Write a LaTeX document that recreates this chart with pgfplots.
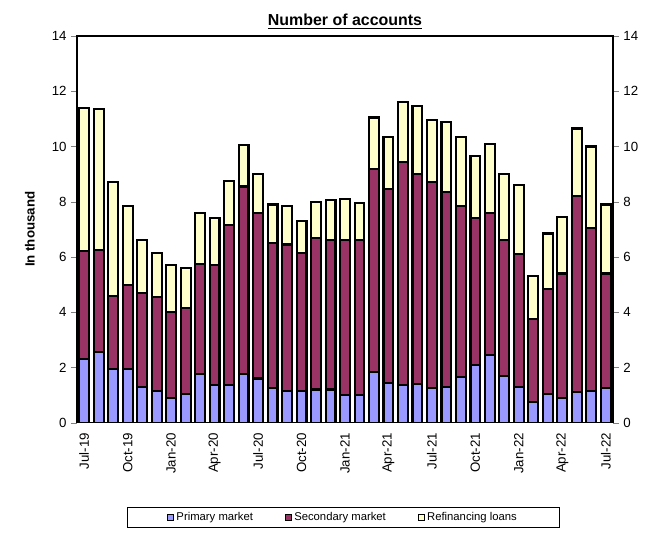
\documentclass[border=0pt]{standalone}
\usepackage{pgfplots}
\pgfplotsset{compat=1.18}
\usepackage{fontspec}
\setmainfont{Liberation Sans}
\definecolor{cp}{HTML}{9999FF}
\definecolor{cs}{HTML}{993366}
\definecolor{cr}{HTML}{FFFFCC}
\pgfplotstableread{
x p s r
0 2.3 3.9 5.2
1 2.55 3.7 5.1
2 1.95 2.65 4.1
3 1.95 3.05 2.85
4 1.3 3.4 1.9
5 1.15 3.4 1.6
6 0.9 3.1 1.7
7 1.05 3.1 1.45
8 1.75 4.0 1.85
9 1.35 4.35 1.7
10 1.35 5.8 1.6
11 1.75 6.8 1.5
12 1.6 6.0 1.4
13 1.25 5.25 1.4
14 1.15 5.3 1.4
15 1.15 5.0 1.15
16 1.2 5.5 1.3
17 1.2 5.4 1.45
18 1.0 5.6 1.5
19 1.0 5.6 1.35
20 1.85 7.35 1.85
21 1.45 7.0 1.9
22 1.35 8.1 2.15
23 1.4 7.6 2.45
24 1.25 7.45 2.25
25 1.3 7.05 2.55
26 1.65 6.2 2.5
27 2.1 5.3 2.25
28 2.45 5.15 2.5
29 1.7 4.9 2.4
30 1.3 4.8 2.5
31 0.75 3.0 1.55
32 1.05 3.8 2.0
33 0.9 4.5 2.05
34 1.1 7.1 2.45
35 1.15 5.9 2.95
36 1.25 4.15 2.5
}\data
\begin{document}
\begin{tikzpicture}
\begin{axis}[
  scale only axis, width=402bp, height=290bp,
  ybar stacked, bar width=0.68,
  xmin=-0.5, xmax=36.5, ymin=0, ymax=14,
  ytick={0,2,...,14}, tick align=outside,
  /pgf/number format/assume math mode=true,
  ytick pos=left, xtick pos=bottom,
  xtick={0,3,...,36},
  xticklabels={Jul-19,Oct-19,Jan-20,Apr-20,Jul-20,Oct-20,Jan-21,Apr-21,Jul-21,Oct-21,Jan-22,Apr-22,Jul-22},
  x tick label style={rotate=90,anchor=east},
  major x tick style={draw=none},
  extra x ticks={-0.5,0.5,...,36.5}, extra x tick labels={},
  extra x tick style={major tick length=4bp,tick style={draw=black}},
  ticklabel style={font=\fontsize{10}{12}\selectfont},
  ylabel={\bfseries In thousand}, ylabel style={font=\fontsize{10}{12}\selectfont, yshift=6bp},
  title={\bfseries\underline{Number of accounts}},
  title style={font=\fontsize{12}{14}\selectfont, yshift=-4bp},
  axis line style={line width=1pt},
  legend style={at={(0.497,-0.245)}, anchor=center, legend columns=3,
    font=\fontsize{8.5}{10}\selectfont, draw=black, line width=0.5pt,
    /tikz/every even column/.append style={column sep=22bp},
    inner xsep=30bp},
  legend image code/.code={\draw[#1,line width=0.4pt,draw=black] (0cm,-0.08cm) rectangle (0.16cm,0.08cm);},
]
\addplot[fill=cp, draw=black, line width=1.6pt] table[x=x,y=p]{\data};
\addplot[fill=cs, draw=black, line width=1.6pt] table[x=x,y=s]{\data};
\addplot[fill=cr, draw=black, line width=1.6pt] table[x=x,y=r]{\data};
\legend{Primary market,Secondary market,Refinancing loans}
\end{axis}
\begin{axis}[
  scale only axis, width=402bp, height=290bp,
  xmin=-0.5, xmax=36.5, ymin=0, ymax=14, ytick={0,2,...,14},
  axis y line*=right, axis x line=none, tick align=outside,
  /pgf/number format/assume math mode=true,
  ticklabel style={font=\fontsize{10}{12}\selectfont},
  axis line style={line width=1pt},
]
\addplot[draw=none] coordinates {(0,0)};
\path (rel axis cs:0,0) ++(-57.75bp,-85.5bp) coordinate (a) (rel axis cs:1,1) ++(36.75bp,27bp) coordinate (b);
\end{axis}
\useasboundingbox (a) rectangle (b);
\end{tikzpicture}
\end{document}
